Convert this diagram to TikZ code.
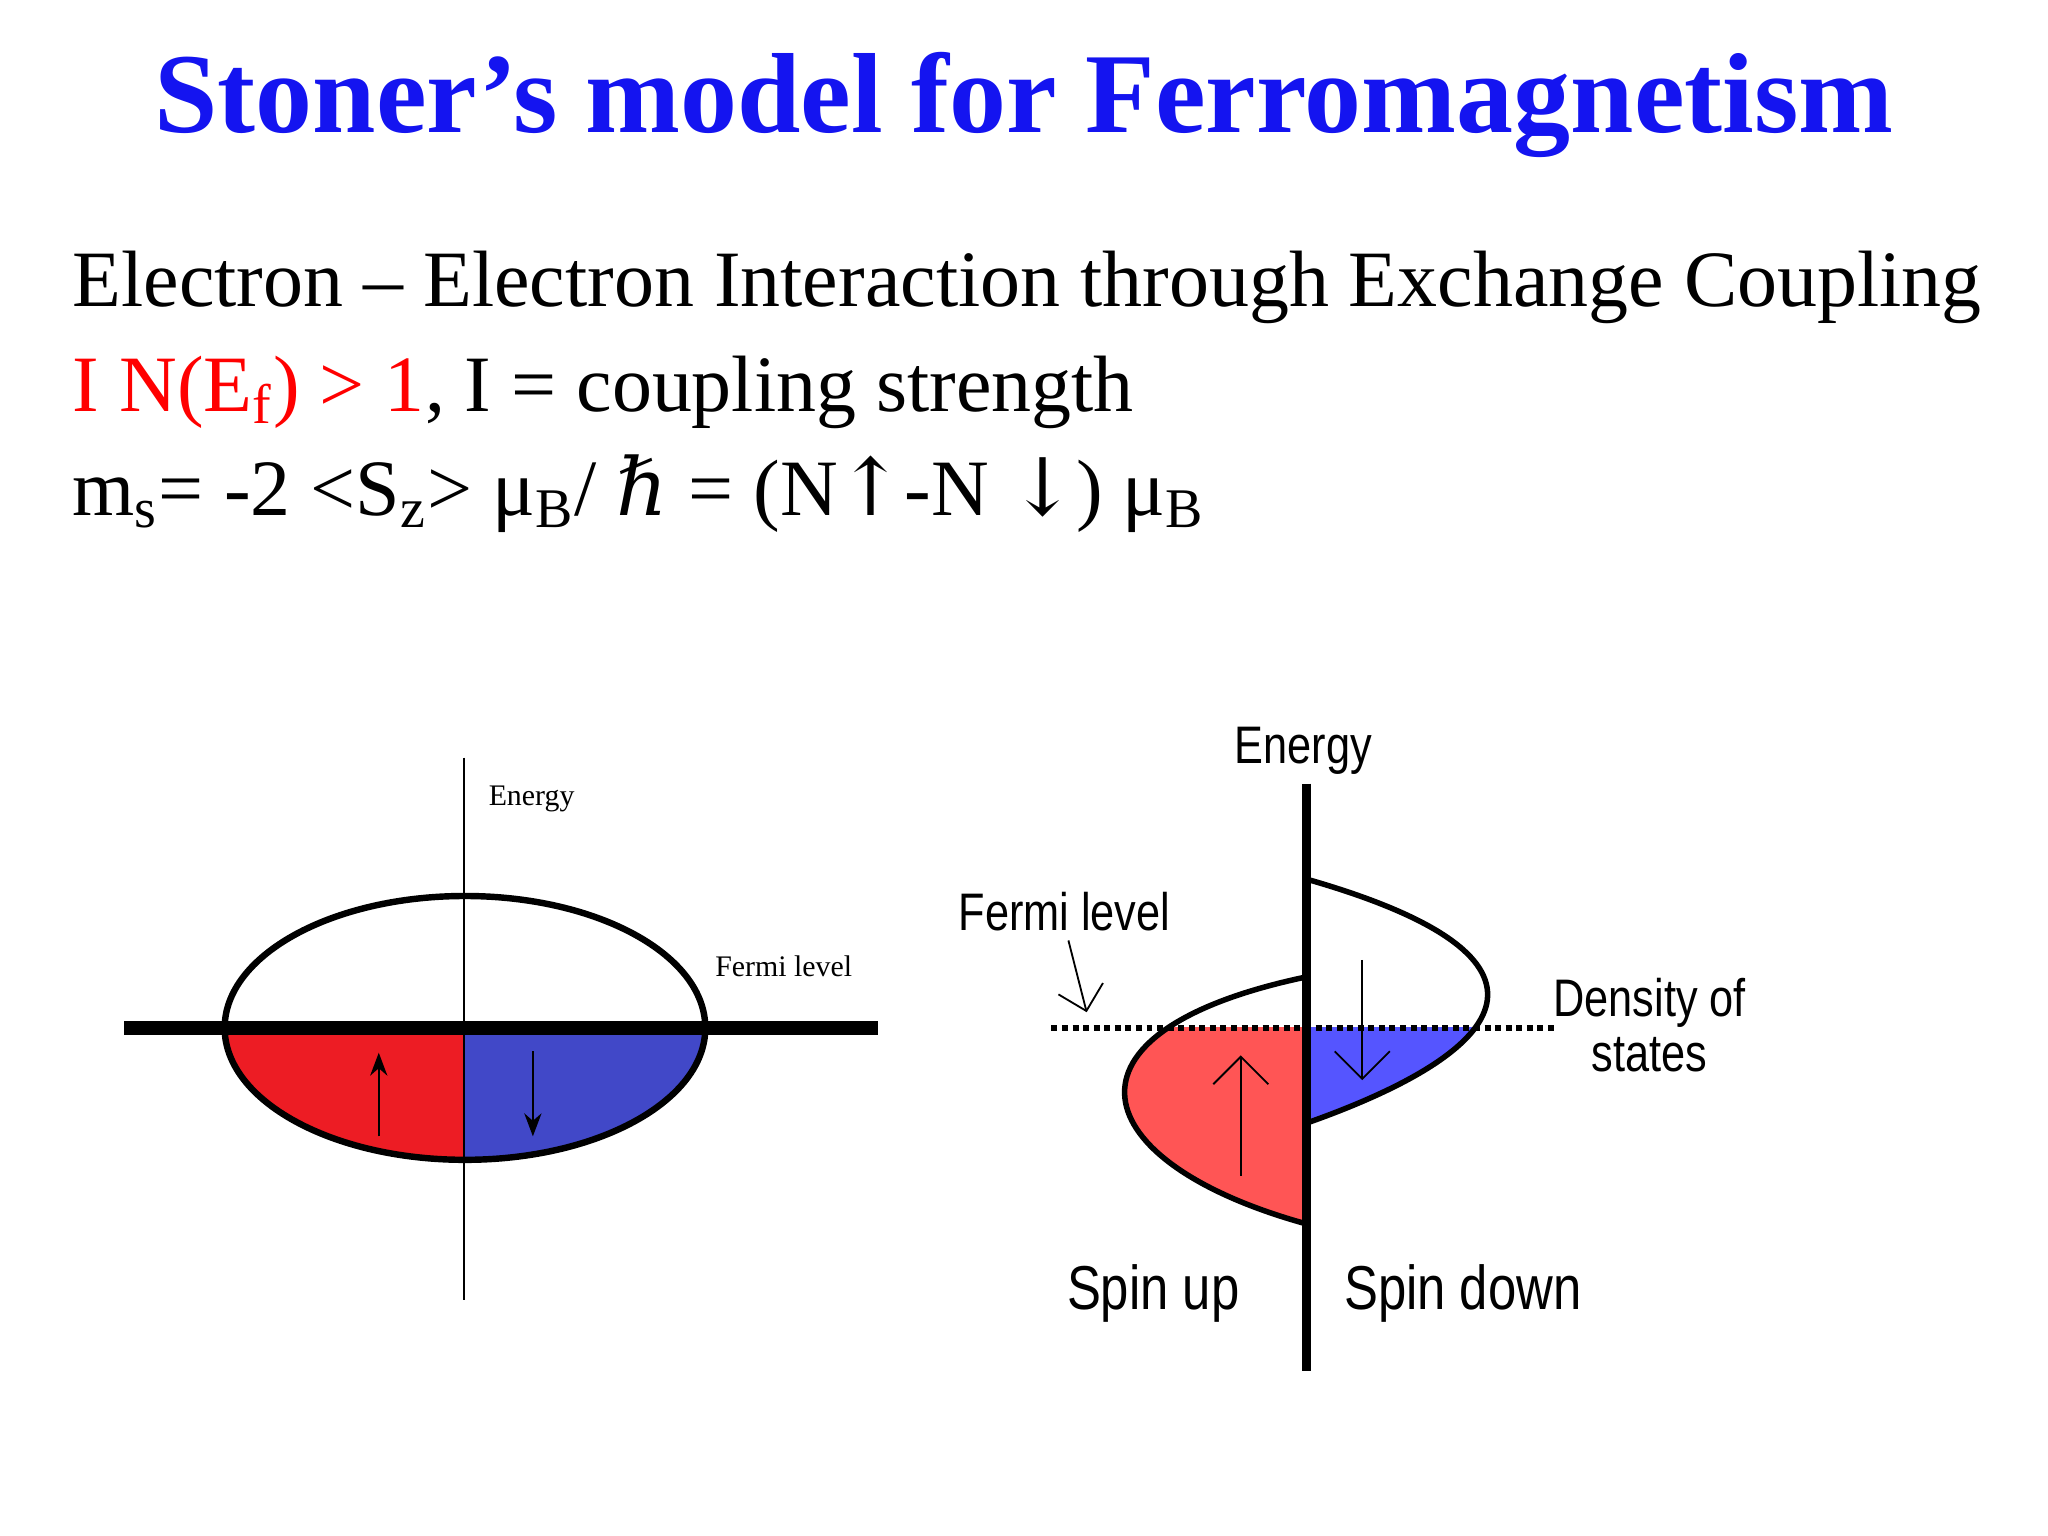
\documentclass[tikz,border=0pt]{standalone}
\usepackage{fontspec}
\setmainfont{Liberation Serif}
\newfontfamily\lsans{Liberation Sans}
\newfontfamily\djs{DejaVu Serif}
\usetikzlibrary{arrows.meta}
\definecolor{tblue}{RGB}{20,20,240}
\definecolor{lred}{RGB}{237,28,36}
\definecolor{lblue}{RGB}{65,72,200}
\definecolor{rred}{RGB}{255,85,85}
\definecolor{rblue}{RGB}{85,85,255}
\tikzset{
 body/.style={anchor=base west,inner sep=0pt,font=\fontsize{17.4}{21}\selectfont},
 slab/.style={font=\fontsize{6.5}{8}\selectfont,inner sep=0pt},
 rlab/.style={font=\lsans\fontsize{11.5}{14}\selectfont,inner sep=0pt,xscale=0.82,align=center},
 blab/.style={font=\lsans\fontsize{13.5}{16}\selectfont,inner sep=0pt,xscale=0.82},
}
\begin{document}
\begin{tikzpicture}[x=0.01cm,y=-0.01cm]
\useasboundingbox[fill=white] (0,0) rectangle (1568,1176);
\node[inner sep=0pt,text=tblue,font=\bfseries\fontsize{24.8}{28}\selectfont] (title) at (784,80) {Stoner’s model for Ferromagnetism};
\node[body] (l1) at (55,235) {Electron – Electron Interaction through Exchange Coupling};
\node[body] (l2) at (55,315) {\textcolor{red}{I N(E\textsubscript{f}) > 1}, I = coupling strength};
\node[body] (l3) at (55,395) {m\textsubscript{s}= -2 <S\textsubscript{z}> μ\textsubscript{B}/ {\itshape\djs ℏ} = (N{\djs↑}-N {\djs↓}) μ\textsubscript{B}};
% left diagram
\begin{scope}
\clip (356,787) ellipse (184 and 101);
\fill[lred] (160,787) rectangle (356,895);
\fill[lblue] (356,787) rectangle (545,895);
\end{scope}
\draw[line width=1.4pt] (356,787) ellipse (184 and 101);
\coordinate (ft) at (95,787); \coordinate (ftr) at (672,787);
\draw[line width=3pt] (ft) -- (ftr);
\coordinate (ea) at (355,580); \coordinate (eb) at (355,995);
\draw[thin] (ea) -- (eb);
\coordinate (ua) at (290,870); \coordinate (ub) at (290,806);
\draw[-{Stealth[length=5pt]}] (ua) -- (ub);
\coordinate (da) at (408,805); \coordinate (db) at (408,870);
\draw[-{Stealth[length=5pt]}] (da) -- (db);
\node[slab] (len) at (407,612) {Energy};
\node[slab] (lfl) at (600,740) {Fermi level};
% right diagram
\begin{scope}
\clip (0,787) rectangle (1568,1176);
\fill[rblue] (1000,673) .. controls (1200,730) and (1170,800) .. (1000,860) -- cycle;
\fill[rred] (1000,748) .. controls (800,790) and (830,890) .. (1000,937) -- cycle;
\end{scope}
\draw[line width=1.2pt] (1000,673) .. controls (1200,730) and (1170,800) .. (1000,860);
\draw[line width=1.2pt] (1000,748) .. controls (800,790) and (830,890) .. (1000,937);
\coordinate (fa) at (805,787); \coordinate (fb) at (1192,787);
\draw[densely dotted,line width=1.3pt] (fa) -- (fb);
\coordinate (ra) at (1000,600); \coordinate (rb) at (1000,1050);
\draw[line width=2pt] (ra) -- (rb);
\coordinate (sua) at (950,900); \coordinate (sub) at (950,808);
\draw[-{Straight Barb[length=6pt]}] (sua) -- (sub);
\coordinate (sda) at (1043,735); \coordinate (sdb) at (1043,827);
\draw[-{Straight Barb[length=6pt]}] (sda) -- (sdb);
\node[rlab] (ren) at (998,575) {Energy};
\node[rlab] (rfl) at (815,698) {Fermi level};
\coordinate (fpa) at (818,720); \coordinate (fpb) at (832,775);
\draw[thin,-{Straight Barb[length=5pt]}] (fpa) -- (fpb);
\node[rlab,font=\lsans\fontsize{11.5}{12}\selectfont] (dos) at (1263,785) {Density of\\states};
\node[blab] (sup) at (883,990) {Spin up};
\node[blab] (sdn) at (1120,990) {Spin down};
\end{tikzpicture}
\end{document}
